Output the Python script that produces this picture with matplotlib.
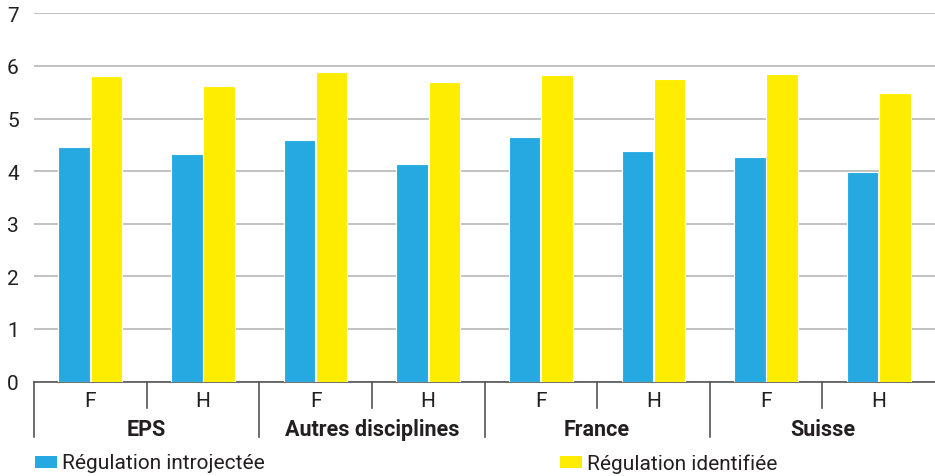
import numpy as np
import matplotlib.pyplot as plt
from matplotlib.patches import Rectangle

groups = ['EPS', 'Autres disciplines', 'France', 'Suisse']
sexes = ['F', 'H']
introjectee = [4.45, 4.32, 4.59, 4.13, 4.65, 4.38, 4.26, 3.99]
identifiee = [5.80, 5.62, 5.89, 5.69, 5.83, 5.75, 5.85, 5.49]
series_names = ['Régulation introjectée', 'Régulation identifiée']

blue = '#25a9e0'
yellow = '#ffed00'
txt = '#231f20'

plt.rcParams['font.family'] = ['Roboto', 'DejaVu Sans']

W, H = 935, 477
fig = plt.figure(figsize=(W / 100, H / 100), dpi=100)
ax = fig.add_axes([34 / W, (H - 382.5) / H, (W - 34) / W, (382.5 - 14.3) / H])

x = np.arange(len(introjectee))
bw = 0.28
ax.bar(x - 0.143, introjectee, bw, color=blue, edgecolor='white', linewidth=0.8, zorder=3)
ax.bar(x + 0.143, identifiee, bw, color=yellow, edgecolor='white', linewidth=0.8, zorder=3)

ax.set_xlim(-0.5, len(x) - 0.5)
ax.set_ylim(0, 7)
ax.set_yticks(range(8))
ax.yaxis.grid(True, color='#b0b0b0', linewidth=1.1)
ax.set_axisbelow(True)
for s in ['top', 'right', 'left']:
    ax.spines[s].set_visible(False)
ax.spines['bottom'].set_color('#555555')
ax.spines['bottom'].set_linewidth(1.2)
ax.tick_params(axis='y', length=0, pad=11, labelsize=15, labelcolor=txt)
ax.set_xticks([])

# two-level category axis
tr = ax.get_xaxis_transform()
axh = 382.5 - 14.3
short = -(409 - 382.5) / axh
long_ = -(438 - 382.5) / axh
for i in range(len(x)):
    b = i - 0.5
    y1 = long_ if i % 2 == 0 else short
    ax.plot([b, b], [0, y1], color='#555555', linewidth=1.2, transform=tr, clip_on=False)
for i in range(len(x)):
    ax.text(i, -(402 - 382.5) / axh, sexes[i % 2], transform=tr, ha='center', va='center',
            fontsize=15, color=txt)
for g, name in enumerate(groups):
    ax.text(2 * g + 0.5, -(430 - 382.5) / axh, name, transform=tr, ha='center', va='center',
            fontsize=15.5, fontweight='bold', color=txt)

# legend
for (lx, col, name) in [(35, blue, series_names[0]), (560, yellow, series_names[1])]:
    fig.add_artist(Rectangle((lx / W, (H - 469) / H), 22 / W, 12 / H, facecolor=col,
                             edgecolor='none', transform=fig.transFigure))
    fig.text((lx + 27) / W, (H - 464) / H, name, ha='left', va='center', fontsize=15, color=txt)

fig.savefig('out.png', dpi=100)
